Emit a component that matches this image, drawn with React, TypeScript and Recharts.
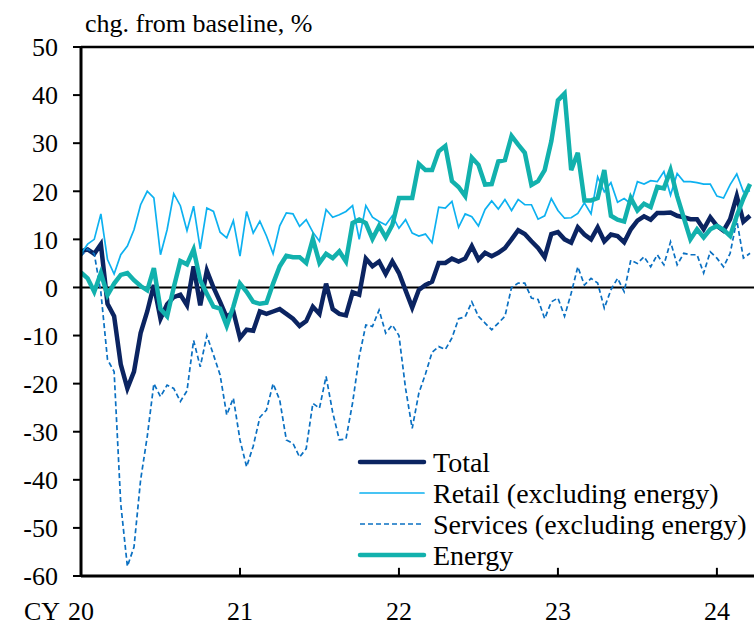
import React from 'react';
import { LineChart, Line, XAxis, YAxis, ReferenceLine } from 'recharts';

// semi-monthly observations, Jan 2020 onward (24 per year)
const yearLabels = ['20', '21', '22', '23', '24'];
const perYear = 24;
const yTicks = [-60, -50, -40, -30, -20, -10, 0, 10, 20, 30, 40, 50];

const total = [
  7.5, 7.9, 7, 9, -3.4, -6, -16, -21, -17.5, -9.5, -5, 0.5, -6.5, -3.5, -2, -1.5, -3.7, 4.4, -3.7, 3.5,
  0, -3, -6.2, -5, -10.5, -8.8, -9, -5, -5.5, -5, -4.5, -5.5, -6.5, -8, -7, -4, -5.5, 0.8, -4.5, -5.5,
  -5.8, -1, -1.5, 6, 4.4, 5.4, 2.8, 5.4, 3, -0.6, -4.2, -0.5, 0.5, 1.2, 5.1, 5.1, 6, 5.4, 6, 8.6,
  5.8, 7.2, 6.5, 7.2, 8.2, 10, 11.9, 11.1, 9.6, 8.2, 6.3, 11.1, 11.5, 10, 9.3, 12.5, 11, 10, 12.5, 9.6,
  11, 10.7, 9.4, 12.1, 13.9, 14.8, 14.1, 15.5, 15.5, 15.6, 14.9, 14.6, 14.2, 14.2, 12.1, 14.6, 12.8, 11.8, 14.2, 19,
  13.7, 14.9,
];

const retail = [
  7, 9, 10, 15.3, 5.8, 2.8, 6.8, 8.6, 12, 17.2, 20, 18.6, 6.8, 12, 19.5, 17, 11.8, 16.9, 8, 16.5,
  15.8, 11.5, 10.3, 13.9, 6.5, 15.8, 11.3, 13.8, 10.7, 7, 12.8, 15.5, 15.3, 12.7, 14.1, 11.5, 9.6, 16.2, 14.6, 15.1,
  15.8, 17, 10, 17, 14.6, 13.7, 13, 14.9, 12.3, 14.1, 11.3, 10.7, 11.1, 9.3, 16.7, 16.5, 17.9, 12.5, 15.3, 14.7,
  12.8, 16.2, 18, 16.3, 18.3, 16, 18.3, 17.2, 17.2, 14.2, 14.9, 18.5, 16, 14.4, 14.5, 15.4, 17.6, 15.3, 23, 19.9,
  21.8, 17.7, 18.5, 17.4, 22, 21.5, 22.2, 22, 24.1, 19.2, 23.7, 22, 22, 21.8, 21.5, 21.5, 19, 18.6, 21.4, 23.6,
  19.9, 20.1,
];

const services = [
  6.5, 8, 7, -1, -15, -17.5, -45, -58, -54, -40, -31, -20, -22.7, -20.3, -21, -23.7, -21.5, -11, -16.5, -10,
  -14, -18.2, -26.5, -23, -31.7, -37.3, -33, -27, -25.5, -20, -23.4, -31.7, -32.4, -35.3, -33.5, -24.1, -25.1, -18.5, -26, -31.7,
  -31.5, -24, -14.4, -7.8, -8.1, -4.7, -9.5, -7.8, -10, -21, -29.3, -22, -18, -13.5, -12.3, -12.9, -10.5, -6.5, -6.1, -3,
  -6, -7.4, -8.8, -7.4, -6, 0, 0.9, 0.9, -2.2, -2.5, -6.5, -3, -2.2, -6, -1.2, 4.3, 0.5, 1.9, 0.9, -4.3,
  -0.5, 1.9, -0.9, 5.7, 5, 6.4, 4.3, 6.8, 4.7, 9.5, 4.7, 7.1, 6.8, 6.8, 3, 7.4, 6.1, 4.3, 7.1, 14,
  6.1, 7.1,
];

const energy = [
  3.1, 1.9, -0.9, 3, -1.6, 0.8, 2.6, 3, 1.5, 0.3, -0.6, 4, -4.5, -6, 0, 5.5, 4.8, 7.9, 1.5, -1.3,
  -4, -4.4, -8, -4, 0.8, -0.9, -3, -3.4, -3.2, 0.8, 4.4, 6.6, 6.3, 6.3, 5.1, 10.1, 5.1, 7, 6.1, 7.5,
  5.4, 13.4, 14.1, 13.4, 10.1, 12.8, 10.4, 13, 18.6, 18.6, 18.6, 25.7, 24.4, 24.4, 28.3, 29.4, 22.1, 20.9, 19, 27,
  25.5, 21.4, 21.5, 26.2, 26.5, 31.5, 29.7, 28, 21.3, 22.1, 24.4, 30.4, 38.9, 40.3, 24.4, 28, 18.1, 18.1, 18.6, 24.4,
  14.9, 14.1, 13.7, 18.6, 16, 17.4, 16.7, 20.9, 20.6, 24.4, 19, 14.5, 10, 12.1, 10.4, 12.1, 12.8, 12, 10.7, 14.9,
  18.5, 21.5,
];

const series = [
  { key: 'total', name: 'Total', color: '#0b2461', width: 4.5, dash: undefined },
  { key: 'retail', name: 'Retail (excluding energy)', color: '#0db1f0', width: 1.7, dash: undefined },
  { key: 'services', name: 'Services (excluding energy)', color: '#0a70c2', width: 1.7, dash: '5 3' },
  { key: 'energy', name: 'Energy', color: '#12b1ad', width: 4.5, dash: undefined },
];

const data = total.map((v, i) => ({
  i,
  total: v,
  retail: retail[i],
  services: services[i],
  energy: energy[i],
}));

const xTicks = yearLabels.map((_, k) => k * perYear);
const font = '"Liberation Serif", "Times New Roman", serif';

const XTick = (props: any) => {
  const { x, y, payload } = props;
  const label = yearLabels[Math.round(payload.value / perYear)];
  return (
    <g>
      {payload.value === 0 && (
        <text x={x - 21} y={y} dy="0.71em" textAnchor="end" fontSize={26} fontFamily={font} fill="#000">
          CY
        </text>
      )}
      <text x={x} y={y} dy="0.71em" textAnchor="middle" fontSize={26} fontFamily={font} fill="#000">
        {label}
      </text>
    </g>
  );
};

export default function App() {
  return (
    <div style={{ position: 'absolute', left: 0, top: 0, width: 754, height: 626, overflow: 'hidden', background: '#fff' }}>
      <LineChart width={754} height={626} data={data} margin={{ top: 47, right: 0, bottom: 0, left: 0 }}>
        <XAxis
          type="number"
          dataKey="i"
          domain={[0, 101.6]}
          ticks={xTicks}
          allowDataOverflow
          height={50}
          tickSize={0}
          tickMargin={26}
          tickLine={false}
          axisLine={{ stroke: '#000', strokeWidth: 3 }}
          tick={<XTick />}
        />
        <YAxis
          type="number"
          domain={[-60, 50]}
          ticks={yTicks}
          width={81}
          tickSize={8}
          tickMargin={15}
          axisLine={{ stroke: '#000', strokeWidth: 3 }}
          tickLine={{ stroke: '#000', strokeWidth: 2 }}
          tick={{ fill: '#000', fontSize: 26, fontFamily: font }}
        />
        <ReferenceLine y={50} stroke="#000" strokeWidth={2.5} />
        <ReferenceLine y={0} stroke="#000" strokeWidth={2} />
        {xTicks.slice(1).map((t) => (
          <ReferenceLine
            key={t}
            segment={[{ x: t, y: -60 }, { x: t, y: -58.3 }]}
            stroke="#000"
            strokeWidth={2}
          />
        ))}
        {series.map((s) => (
          <Line
            key={s.key}
            type="linear"
            dataKey={s.key}
            name={s.name}
            stroke={s.color}
            strokeWidth={s.width}
            strokeDasharray={s.dash}
            dot={false}
            activeDot={false}
            isAnimationActive={false}
          />
        ))}
      </LineChart>
      <svg width={754} height={626} style={{ position: 'absolute', left: 0, top: 0, pointerEvents: 'none' }}>
        <text x={85} y={32} fontSize={26} fontFamily={font} fill="#000">
          chg. from baseline, %
        </text>
        {series.map((s, k) => {
          const cy = 462 + k * 31;
          return (
            <g key={s.key}>
              <line
                x1={360}
                x2={424}
                y1={cy}
                y2={cy}
                stroke={s.color}
                strokeWidth={s.width}
                strokeDasharray={s.dash}
                strokeLinecap={s.dash ? 'butt' : 'round'}
              />
              <text x={433} y={cy + 9.5} fontSize={28} fontFamily={font} fill="#000">
                {s.name}
              </text>
            </g>
          );
        })}
      </svg>
    </div>
  );
}
